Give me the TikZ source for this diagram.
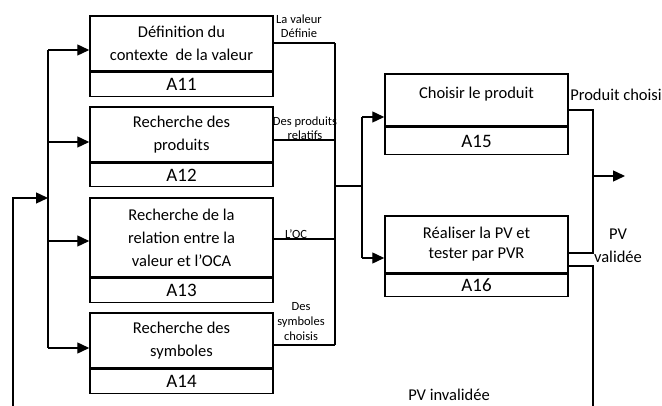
\documentclass[tikz,border=0pt]{standalone}
\usepackage{fontspec}
\setmainfont{Carlito}
\usetikzlibrary{arrows.meta, positioning, calc}

\tikzset{
  act/.style={draw, line width=1.5pt, minimum width=183pt, inner sep=0pt, align=center,
    font=\fontsize{16.5}{23}\selectfont},
  actid/.style={draw, line width=1.5pt, minimum width=183pt, inner sep=0pt,
    font=\fontsize{19}{19}\selectfont},
  flow/.style={line width=1.4pt},
  arr/.style={line width=1.4pt, -{Triangle[length=12pt,width=11pt]}},
  lbl/.style={inner sep=0pt, align=center, font=\fontsize{12.5}{14}\selectfont},
  outlbl/.style={inner sep=0pt, align=center, font=\fontsize{16.5}{23}\selectfont},
}

\begin{document}
\begin{tikzpicture}[x=1pt, y=-1pt]
\useasboundingbox (0,0) rectangle (662,406);

% activities A11 - A14
\node[act, minimum height=55pt] (a11) at (181.5,43.5) {Définition du\\contexte~ de la valeur};
\node[actid, minimum height=24pt, below=0pt of a11] (a11id) {A11};
\node[act, minimum height=55pt] (a12) at (181.5,134.5) {Recherche des\\produits};
\node[actid, minimum height=23pt, below=0pt of a12] (a12id) {A12};
\node[act, minimum height=79pt] (a13) at (181.5,237.5) {Recherche de la\\relation entre la\\valeur et l’OCA};
\node[actid, minimum height=24pt, below=0pt of a13] (a13id) {A13};
\node[act, minimum height=55pt] (a14) at (181.5,340.5) {Recherche des\\symboles};
\node[actid, minimum height=24pt, below=0pt of a14] (a14id) {A14};

% activities A15 - A16
\node[act, minimum height=52pt, font=\fontsize{16.5}{15}\selectfont] (a15) at (476.5,100) {Choisir le produit\\~};
\node[actid, minimum height=27pt, below=0pt of a15] (a15id) {A15};
\node[act, minimum height=57pt, font=\fontsize{16.5}{20}\selectfont] (a16) at (476.5,244.5) {Réaliser la PV et\\tester par PVR};
\node[actid, minimum height=22pt, below=0pt of a16] (a16id) {A16};

% input bus
\coordinate (b1) at (48,50);
\coordinate (b2) at (48,142);
\coordinate (b3) at (48,241);
\coordinate (b4) at (48,348);
\coordinate (fbin) at (48,198);
\coordinate (fb) at (13,406);
\draw[flow] (b1) -- (b4);
\foreach \b/\t in {b1/a11, b2/a12, b3/a13, b4/a14}
  \draw[arr] (\b) -- (\b -| \t.west);
\draw[arr] (fb) |- (fbin);

% outputs of A11 - A14
\coordinate (c1) at (335,43);
\coordinate (c2) at (335,140);
\coordinate (c3) at (335,239);
\coordinate (c4) at (335,345);
\draw[flow] (c1) -- (c4);
\foreach \c/\s in {c1/a11, c2/a12, c3/a13, c4/a14}
  \draw[flow] (\c -| \s.east) -- (\c);
\node[lbl] (lv) at (299,26) {La valeur\\Définie};
\node[lbl] (lp) at (305,128) {Des produits\\relatifs};
\node[lbl] (loc) at (296,234) {L’OC};
\node[lbl, font=\fontsize{12.5}{15}\selectfont] (ls) at (301,322) {Des\\symboles\\choisis};

% towards A15 and A16
\coordinate (m) at (335,186);
\coordinate (d) at (362,186);
\coordinate (d1) at (362,117);
\coordinate (d2) at (362,258);
\draw[flow] (m) -- (d);
\draw[flow] (d1) -- (d2);
\draw[arr] (d1) -- (d1 -| a15.west);
\draw[arr] (d2) -- (d2 -| a16.west);

% outputs of A15 and A16
\coordinate (e1) at (593,110);
\coordinate (e2) at (593,253);
\coordinate (o) at (593,176);
\coordinate (out) at (625,176);
\coordinate (f1) at (593,266);
\coordinate (f2) at (593,406);
\draw[flow] (e1 -| a15.east) -- (e1) -- (e2) -- (e2 -| a16.east);
\draw[arr] (o) -- (out);
\draw[flow] (f1 -| a16.east) -- (f1) -- (f2);
\node[outlbl] (pc) at (616,95) {Produit choisi};
\node[outlbl] (pvv) at (618,245.5) {PV\\validée};
\node[outlbl] (pvi) at (449,395) {PV invalidée};
\end{tikzpicture}
\end{document}
